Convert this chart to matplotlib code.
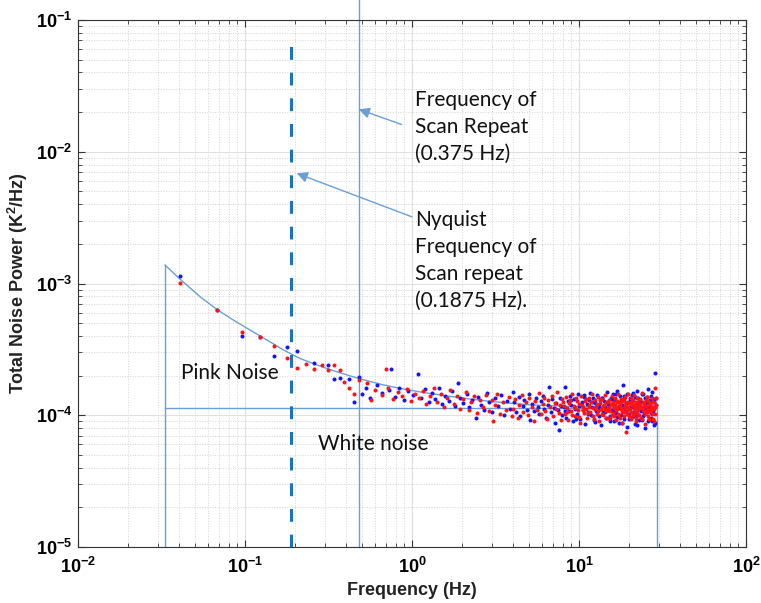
import numpy as np
import matplotlib.pyplot as plt
from matplotlib.ticker import LogLocator, FixedLocator, FixedFormatter, NullFormatter

plt.rcParams['font.family'] = ['Liberation Sans Narrow', 'Liberation Sans', 'DejaVu Sans']
plt.rcParams['mathtext.fontset'] = 'custom'
plt.rcParams['mathtext.rm'] = 'Liberation Sans'
plt.rcParams['mathtext.bf'] = 'Liberation Sans:bold'

# ruido total (unidades de 1e-4 K^2/Hz)
azul_f = [0.0408, 0.0679, 0.0954, 0.123, 0.150, 0.178, 0.205, 0.260, 0.315, 0.343, 0.370,
          0.42, 0.45, 0.48, 0.505, 0.53, 0.56, 0.62, 0.66, 0.73, 0.75, 0.79, 0.84, 0.90, 0.95,
          1.01, 1.08, 1.13, 1.19, 1.26, 1.31, 1.38, 1.45, 1.52, 1.58, 1.66, 1.73, 1.80, 1.88,
          1.95, 2.03, 2.12, 2.20, 2.29, 2.40, 2.48, 2.58, 2.69, 2.80, 2.91, 3.03, 3.15, 3.28,
          3.40, 3.55, 3.70, 3.85, 4.00,
          4.1, 4.2, 4.35, 4.45, 4.6, 4.7, 4.85, 5.0, 5.1, 5.25, 5.4, 5.5, 5.65, 5.8, 5.95,
          6.1, 6.2, 6.35, 6.5, 6.6, 6.8, 6.9, 7.05, 7.2, 7.3, 7.45, 7.6, 7.7, 7.85, 7.95,
          8.1, 8.24, 8.4, 8.55, 8.7, 8.85, 9.0, 9.2, 9.35, 9.5, 9.7, 9.85, 10.0, 10.2, 10.4,
          10.55, 10.7, 10.9, 11.1, 11.3, 11.45, 11.6, 11.8, 12.0, 12.2, 12.35, 12.5, 12.7,
          12.9, 13.1, 13.25, 13.4, 13.6, 13.8, 14.0, 14.2, 14.35, 14.5, 14.7, 14.9,
          15.1, 15.3, 15.5, 15.7, 15.9, 16.1, 16.3, 16.5, 16.7, 16.9, 17.1, 17.3, 17.5, 17.7,
          17.9, 18.1, 18.3, 18.5, 18.7, 18.9, 19.1, 19.3, 19.5, 19.7, 19.9, 20.1, 20.3, 20.5,
          20.7, 20.9, 21.1, 21.3, 21.5, 21.7, 21.9, 22.1, 22.3, 22.5, 22.7, 22.9, 23.2, 23.5,
          23.8, 24.1, 24.4, 24.7, 25.0, 25.3, 25.6, 25.9, 26.2, 26.5, 26.8, 27.1, 27.4, 27.7,
          28.0, 28.2, 28.5, 28.8]
azul_p = [11.5, 6.3, 4.0, 3.9, 2.84, 3.3, 3.1, 2.5, 2.4, 1.9, 1.93,
          1.90, 1.27, 1.95, 1.45, 1.62, 1.35, 1.70, 1.48, 1.55, 2.23, 1.38, 1.60, 1.30, 1.52,
          1.42, 2.05, 1.36, 1.58, 1.25, 1.47, 1.33, 1.62, 1.21, 1.40, 1.29, 1.52, 1.18, 1.77,
          1.34, 1.23, 1.45, 1.15, 1.31, 0.95, 1.38, 1.20, 1.10, 1.48, 1.26, 1.05, 1.35, 1.18,
          1.42, 1.00, 1.28, 1.12, 1.50,
          1.25, 1.05, 1.38, 0.98, 1.18, 1.30, 1.10, 1.45, 0.92, 1.22, 1.08, 1.35, 1.15, 1.02, 1.28,
          1.40, 1.12, 0.95, 1.20, 1.65, 1.06, 1.32, 1.14, 0.88, 1.24, 1.10, 0.77, 1.36, 1.18, 1.00,
          1.15, 1.65, 0.96, 1.28, 1.08, 1.40, 1.20, 0.90, 1.33, 1.12, 1.02, 1.45, 1.18, 0.94, 1.26,
          1.10, 1.38, 0.86, 1.22, 1.05, 1.30, 1.48, 1.00, 1.16, 1.34, 0.92, 1.24, 1.08,
          1.42, 0.98, 1.20, 1.12, 0.84, 1.36, 1.06, 1.28, 1.16, 0.95, 1.50, 1.10,
          1.22, 0.98, 1.36, 1.10, 1.44, 0.90, 1.18, 1.30, 1.04, 1.52, 1.14, 0.88, 1.26, 1.40,
          1.00, 1.20, 1.70, 0.94, 1.32, 1.08, 1.24, 0.82, 1.46, 1.12, 1.02, 1.34, 1.16, 0.96,
          1.28, 1.42, 1.06, 1.20, 0.86, 1.38, 1.10, 1.54, 1.00, 1.24, 1.14, 0.92, 1.30, 1.08,
          1.44, 0.98, 1.18, 0.80, 1.36, 1.12, 1.26, 1.58, 0.94, 1.22, 1.04, 1.40, 0.90, 1.16,
          1.32, 0.84, 2.10, 1.20]
# zona densa, puntos adicionales
azul_f_denso = [8.3, 8.9, 9.55, 10.15, 10.75, 11.35, 11.95, 12.55, 13.15, 13.75, 14.4,
                15.0, 15.4, 15.8, 16.2, 16.6, 17.0, 17.4, 17.8, 18.2, 18.6, 19.0, 19.4, 19.8,
                20.2, 20.6, 21.0, 21.4, 21.8, 22.2, 22.6, 23.0, 23.4, 23.8, 24.2, 24.6, 25.0,
                25.4, 25.8, 26.2, 26.6, 27.0, 27.4, 27.8, 28.2, 28.6, 29.0]
azul_p_denso = [1.08, 1.30, 0.93, 1.19, 1.42, 1.02, 1.25, 0.89, 1.14, 1.36, 1.05,
                1.22, 0.91, 1.33, 1.10, 1.46, 0.97, 1.18, 1.28, 0.87, 1.40, 1.06, 1.24,
                0.94, 1.31, 1.15, 1.48, 0.99, 1.20, 0.85, 1.35, 1.11, 1.27, 0.92, 1.44,
                1.03, 1.21, 1.38, 0.90, 1.16, 1.30, 0.96, 1.50, 1.07, 1.26, 0.88, 1.34]

rojo_f = [0.0408, 0.0679, 0.0954, 0.123, 0.150, 0.178, 0.205, 0.233, 0.260, 0.288, 0.315,
          0.343, 0.370, 0.393, 0.42, 0.45, 0.48, 0.54, 0.57, 0.60, 0.66, 0.70, 0.72, 0.77,
          0.82, 0.87, 0.93, 0.98, 1.04, 1.10, 1.16, 1.22, 1.29, 1.35, 1.42, 1.49, 1.56, 1.63,
          1.70, 1.78, 1.86, 1.93, 2.01, 2.10, 2.18, 2.27, 2.36, 2.46, 2.55, 2.66, 2.77, 2.88,
          3.00, 3.04, 3.13, 3.25, 3.38, 3.52, 3.66, 3.80, 3.95,
          4.05, 4.15, 4.3, 4.4, 4.55, 4.65, 4.8, 4.95, 5.05, 5.2, 5.35, 5.45, 5.6, 5.75, 5.9,
          6.05, 6.15, 6.3, 6.45, 6.55, 6.7, 6.85, 7.0, 7.15, 7.25, 7.4, 7.55, 7.65, 7.8, 7.9,
          8.05, 8.2, 8.35, 8.5, 8.65, 8.8, 8.95, 9.1, 9.3, 9.45, 9.6, 9.8, 9.95, 10.1, 10.3,
          10.5, 10.65, 10.8, 11.0, 11.2, 11.4, 11.55, 11.7, 11.9, 12.1, 12.3, 12.45, 12.6,
          12.8, 13.0, 13.2, 13.35, 13.5, 13.7, 13.9, 14.1, 14.3, 14.45, 14.6, 14.8,
          15.0, 15.2, 15.4, 15.6, 15.8, 16.0, 16.2, 16.4, 16.6, 16.8, 17.0, 17.2, 17.4, 17.6,
          17.8, 18.0, 18.2, 18.4, 18.6, 18.8, 19.0, 19.2, 19.4, 19.6, 19.8, 20.0, 20.2, 20.4,
          20.6, 20.8, 21.0, 21.2, 21.4, 21.6, 21.8, 22.0, 22.2, 22.4, 22.6, 22.8, 23.0, 23.3,
          23.6, 23.9, 24.2, 24.5, 24.8, 25.1, 25.4, 25.7, 26.0, 26.3, 26.6, 26.9, 27.2, 27.5,
          27.8, 28.1, 28.4, 28.7]
rojo_p = [10.1, 6.3, 4.3, 3.9, 3.36, 2.7, 2.3, 2.45, 2.25, 2.4, 2.2,
          2.4, 2.2, 1.80, 1.60, 1.45, 1.85, 1.75, 1.30, 1.55, 1.42, 2.23, 1.62, 1.32,
          1.50, 1.40, 1.58, 1.28, 1.45, 1.35, 1.52, 1.22, 1.40, 1.60, 1.27, 1.45, 1.15, 1.36,
          1.55, 1.22, 1.40, 1.12, 1.33, 1.50, 1.10, 1.25, 1.40, 1.04, 1.30, 1.16, 1.42, 1.08,
          1.30, 0.91, 1.20, 1.45, 1.02, 1.25, 1.10, 1.38, 0.98,
          1.12, 1.32, 0.95, 1.20, 1.42, 1.05, 1.26, 1.00, 1.36, 1.15, 0.90, 1.28, 1.10, 1.48, 1.02,
          1.22, 1.34, 1.08, 0.94, 1.30, 1.16, 1.40, 0.98, 1.24, 1.12, 1.50, 1.04, 1.20, 0.92, 1.33,
          1.26, 1.02, 1.38, 1.14, 0.92, 1.30, 1.08, 1.44, 1.18, 0.98, 1.34, 1.10, 1.22, 0.88, 1.40,
          1.16, 1.04, 1.28, 1.12, 0.96, 1.36, 1.20, 1.06, 1.46, 1.14, 0.94, 1.30, 1.18,
          1.02, 1.38, 0.90, 1.24, 1.12, 1.32, 1.00, 1.20, 1.42, 1.08, 0.96, 1.26,
          1.10, 1.30, 0.96, 1.22, 1.40, 1.04, 1.16, 1.34, 0.92, 1.26, 1.12, 1.44, 1.00, 1.20,
          1.32, 0.88, 1.14, 1.28, 1.06, 1.38, 0.74, 1.18, 1.10, 1.46, 0.98, 1.24, 1.12, 1.34,
          0.94, 1.20, 1.30, 1.04, 1.42, 1.16, 0.90, 1.26, 1.08, 1.36, 1.00, 1.22, 1.14, 1.32,
          0.96, 1.48, 1.10, 1.24, 0.86, 1.18, 1.38, 1.06, 1.28, 0.94, 1.20, 1.12, 1.34, 1.02,
          1.26, 0.90, 1.62, 1.16]
rojo_f_denso = [8.15, 8.45, 8.75, 9.05, 9.4, 9.75, 10.05, 10.35, 10.6, 10.95,
                11.25, 11.5, 11.85, 12.15, 12.4, 12.75, 13.05, 13.3, 13.65, 13.95,
                14.25, 14.55, 14.85, 15.1, 15.3, 15.5, 15.7, 15.9, 16.1, 16.3,
                16.5, 16.7, 16.9, 17.1, 17.3, 17.5, 17.7, 17.9, 18.1, 18.3,
                18.5, 18.7, 18.9, 19.1, 19.3, 19.5, 19.7, 19.9, 20.1, 20.3,
                20.5, 20.7, 20.9, 21.1, 21.3, 21.5, 21.7, 21.9, 22.1, 22.3,
                22.5, 22.7, 22.9, 23.15, 23.45, 23.75, 24.05, 24.35, 24.65, 24.95,
                25.25, 25.55, 25.85, 26.15, 26.45, 26.75, 27.05, 27.35, 27.65, 27.95,
                28.25, 28.55, 28.85, 29.1]
rojo_p_denso = [1.18, 1.06, 1.24, 1.00, 1.14, 1.28, 0.97, 1.20, 1.10, 1.32,
                1.04, 1.16, 1.26, 0.99, 1.12, 1.22, 1.08, 1.30, 1.02, 1.18,
                1.11, 1.25, 0.96, 1.15, 1.07, 1.21, 1.01, 1.27, 1.13, 0.98,
                1.19, 1.09, 1.29, 1.03, 1.17, 0.95, 1.23, 1.11, 1.05, 1.31,
                1.14, 0.99, 1.20, 1.08, 1.26, 1.02, 1.16, 1.12, 0.97, 1.24,
                1.06, 1.19, 1.28, 1.01, 1.13, 1.09, 1.22, 0.96, 1.17, 1.04,
                1.27, 1.10, 1.00, 1.21, 1.15, 0.94, 1.25, 1.07, 1.18, 1.03,
                1.30, 1.12, 0.98, 1.20, 1.09, 1.23, 1.05, 1.16, 0.93, 1.27,
                1.11, 1.02, 1.19, 1.36]

# ajuste de ruido rosa
curva_f = [0.0332, 0.0408, 0.0538, 0.0677, 0.0851, 0.107, 0.135, 0.170, 0.213, 0.269,
           0.338, 0.426, 0.536, 0.673, 0.847, 1.2, 2.0, 3.0, 5.0, 10.0, 29.3]
curva_p = [13.8, 10.8, 7.94, 6.37, 5.28, 4.44, 3.73, 3.13, 2.70, 2.41,
           2.18, 1.99, 1.83, 1.70, 1.60, 1.48, 1.35, 1.27, 1.20, 1.16, 1.14]

f_inicio = 0.0332
f_fin = 29.3
nivel_blanco = 1.13
f_nyquist = 0.1875
f_scan_linea = 0.48

escala = 1e-4
color_linea = '#6b9fd4'

fig = plt.figure(figsize=(7.61, 6.03), dpi=100)
ax = fig.add_axes([0.1025, 0.0929, 0.8778, 0.8739])
ax.set_xscale('log')
ax.set_yscale('log')
ax.set_xlim(1e-2, 1e2)
ax.set_ylim(1e-5, 1e-1)

ax.grid(which='major', color='#e0e0e0', lw=0.8, ls='-', zorder=0)
ax.grid(which='minor', color='#d4d4d4', lw=0.7, ls=':', zorder=0)

azul_x = np.concatenate([azul_f, azul_f_denso])
azul_y = np.concatenate([azul_p, azul_p_denso]) * escala
rojo_x = np.concatenate([rojo_f, rojo_f_denso])
rojo_y = np.concatenate([rojo_p, rojo_p_denso]) * escala
ax.plot(azul_x, azul_y, 'o', color='#1414ff', ms=2.9, mew=0, zorder=3)
ax.plot(rojo_x, rojo_y, 'o', color='#ff1414', ms=2.9, mew=0, zorder=3)

ax.plot(np.array(curva_f), np.array(curva_p) * escala, color=color_linea, lw=1, zorder=2)
ax.plot([f_inicio, f_inicio], [1e-5, curva_p[0] * escala], color=color_linea, lw=1, zorder=2)
ax.plot([f_inicio, f_fin], [nivel_blanco * escala] * 2, color=color_linea, lw=1, zorder=2)
ax.plot([f_fin, f_fin], [1e-5, nivel_blanco * escala], color=color_linea, lw=1, zorder=2)

ax.axvline(f_nyquist, ymax=0.964, color='#1a72c0', lw=2.2, ls=(0, (4.2, 4.2)), zorder=4)
ax.axvline(f_scan_linea, ymax=1.038, color=color_linea, lw=1, clip_on=False, zorder=2)

flecha = dict(arrowstyle='-|>', color=color_linea, lw=1, mutation_scale=16, shrinkA=0, shrinkB=0)
ax.annotate('', xy=(f_scan_linea, 0.021), xytext=(0.867, 0.0161), arrowprops=flecha)
ax.annotate('', xy=(0.204, 6.86e-3), xytext=(0.996, 3.21e-3), arrowprops=flecha)

fuente = dict(family=['Lato', 'DejaVu Sans'], fontsize=15, color='#111111')
ax.text(1.04, 0.0154, 'Frequency of\nScan Repeat\n(0.375 Hz)', va='center', ha='left',
        linespacing=1.45, **fuente)
ax.text(1.04, 1.5e-3, 'Nyquist\nFrequency of\nScan repeat\n(0.1875 Hz).', va='center', ha='left',
        linespacing=1.45, **fuente)
ax.text(0.0414, 2.09e-4, 'Pink Noise', va='center', ha='left', **fuente)
ax.text(0.2735, 6.05e-5, 'White noise', va='center', ha='left', **fuente)

ax.xaxis.set_major_locator(FixedLocator([1e-2, 1e-1, 1e0, 1e1, 1e2]))
ax.xaxis.set_major_formatter(FixedFormatter([r'$\mathbf{10^{-2}}$', r'$\mathbf{10^{-1}}$',
                                             r'$\mathbf{10^{0}}$', r'$\mathbf{10^{1}}$',
                                             r'$\mathbf{10^{2}}$']))
ax.yaxis.set_major_locator(FixedLocator([1e-5, 1e-4, 1e-3, 1e-2, 1e-1]))
ax.yaxis.set_major_formatter(FixedFormatter([r'$\mathbf{10^{-5}}$', r'$\mathbf{10^{-4}}$',
                                             r'$\mathbf{10^{-3}}$', r'$\mathbf{10^{-2}}$',
                                             r'$\mathbf{10^{-1}}$']))
ax.xaxis.set_minor_locator(LogLocator(base=10, subs=np.arange(2, 10)))
ax.yaxis.set_minor_locator(LogLocator(base=10, subs=np.arange(2, 10)))
ax.xaxis.set_minor_formatter(NullFormatter())
ax.yaxis.set_minor_formatter(NullFormatter())

ax.tick_params(which='both', direction='in', top=True, right=True, color='#333333', labelsize=13)
ax.tick_params(which='major', length=5, width=0.8)
ax.tick_params(which='minor', length=3, width=0.6)
ax.tick_params(axis='x', pad=7)
ax.tick_params(axis='y', pad=4)
for s in ax.spines.values():
    s.set_color('#333333')
    s.set_linewidth(0.8)

ax.set_xlabel('Frequency (Hz)', fontsize=13, fontweight='bold', color='#222222')
ax.set_ylabel(r'Total Noise Power (K$\mathbf{^2}$/Hz)', fontsize=13, fontweight='bold', color='#222222')
ax.xaxis.set_label_coords(0.5, -0.083)
ax.xaxis.label.set_va('center')
ax.yaxis.set_label_coords(-0.09, 0.5)
ax.yaxis.label.set_va('center')

fig.savefig('out.png', dpi=100)
